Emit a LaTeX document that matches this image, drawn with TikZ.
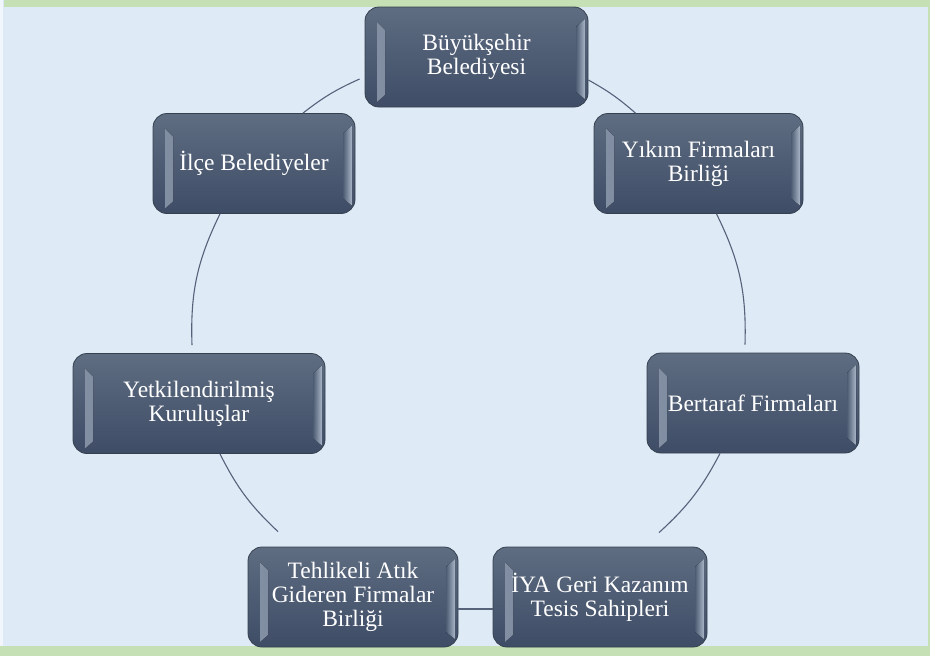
\documentclass[tikz,border=0pt]{standalone}
\usepackage{fontspec}
\setmainfont{Liberation Serif}
\usepackage{tikz}
\usetikzlibrary{shapes, calc, positioning}
\definecolor{pagebg}{HTML}{DEEAF6}
\definecolor{bandgreen}{HTML}{C5E0B4}
\definecolor{boxtop}{HTML}{5E6D81}
\definecolor{boxbot}{HTML}{3E4C66}
\definecolor{boxedge}{HTML}{36414F}
\definecolor{boxmid}{HTML}{4E5C73}
\definecolor{bevel}{HTML}{A9B6C8}
\definecolor{linkgray}{HTML}{56627A}
\tikzstyle{link} = [draw=linkgray, line width=1.1pt]
\tikzstyle{unit} = [rectangle, rounded corners=14pt, draw=boxedge, line width=0.8pt,
    top color=boxtop, bottom color=boxbot, text=white, align=center, inner sep=0pt,
    minimum height=100pt, font=\fontsize{23.5}{24}\selectfont,
    path picture={
      \fill[sharp corners, left color=bevel!60!boxmid, right color=boxmid]
        ($(path picture bounding box.north west)+(12pt,-15pt)$) -- ($(path picture bounding box.north west)+(20pt,-23pt)$)
        -- ($(path picture bounding box.south west)+(20pt,12pt)$) -- ($(path picture bounding box.south west)+(12pt,5pt)$) -- cycle;
      \fill[sharp corners, right color=bevel, left color=boxmid]
        ($(path picture bounding box.north east)+(-3pt,-12pt)$) -- ($(path picture bounding box.north east)+(-12pt,-20pt)$)
        -- ($(path picture bounding box.south east)+(-12pt,15pt)$) -- ($(path picture bounding box.south east)+(-3pt,8pt)$) -- cycle;
    }]

\begin{document}
\begin{tikzpicture}[x=1pt, y=-1pt]
            \useasboundingbox (0,0) rectangle (930,656);
            \fill[pagebg] (0,0) rectangle (930,656);
            \fill[white!55!pagebg] (0,0) rectangle (3,646);
            \fill[bandgreen] (4,0) rectangle (930,7);
            \fill[bandgreen] (0,646) rectangle (930,656);
            \fill[bandgreen] (928,0) rectangle (930,656);

            \node[unit, minimum width=223pt] (buyuk) at (476.5,57) {Büyükşehir\\Belediyesi};
            \node[unit, minimum width=209pt] (yikim) at (698.5,163.5) {Yıkım Firmaları\\Birliği};
            \node[unit, minimum width=212pt] (bertaraf) at (753,403) {Bertaraf Firmaları};
            \node[unit, minimum width=214pt] (iya) at (600,597) {İYA Geri Kazanım\\Tesis Sahipleri};
            \node[unit, minimum width=210pt] (tehlikeli) at (353,597) {Tehlikeli Atık\\Gideren Firmalar\\Birliği};
            \node[unit, minimum width=252pt] (yetki) at (199,403.5) {Yetkilendirilmiş\\Kuruluşlar};
            \node[unit, minimum width=202pt] (ilce) at (254,163.5) {İlçe Belediyeler};

            \draw[link] ($(buyuk.east)+(0,23)$) to[bend left=6] ($(yikim.north)+(-63,0)$);
            \draw[link] ($(yikim.south)+(18,0)$) to[bend left=14] ($(bertaraf.north)+(-8,-8)$);
            \draw[link] ($(bertaraf.south)+(-33,0)$) to[bend left=10] ($(iya.north)+(59,-14)$);
            \draw[link] ($(iya.west)+(0,12)$) -- ($(tehlikeli.east)+(0,12)$);
            \draw[link] ($(tehlikeli.north)+(-75,-15)$) to[bend left=10] ($(yetki.south)+(21,0)$);
            \draw[link] ($(yetki.north)+(-7,-8)$) to[bend left=14] ($(ilce.south)+(-34,0)$);
            \draw[link] ($(ilce.north)+(49,0)$) to[bend left=7] ($(buyuk.west)+(-5,22)$);
\end{tikzpicture}
\end{document}
